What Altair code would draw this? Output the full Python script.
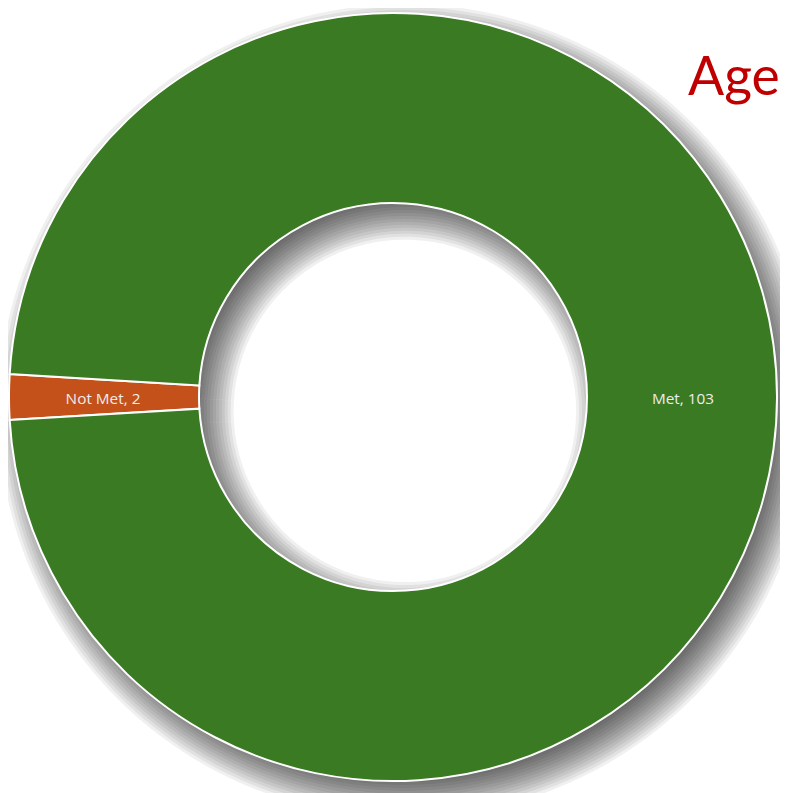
import math
import altair as alt
import pandas as pd

categories = ["Not Met", "Met"]
values = [2, 103]
colors = ["#C4501A", "#3A7A23"]
title_text = "Age"

total = sum(values)
start = math.radians(270 - 360 * values[0] / total / 2)
df = pd.DataFrame({
    "category": categories,
    "value": values,
    "idx": list(range(len(categories))),
    "label": [f"{c}, {v}" for c, v in zip(categories, values)],
})

W, H = 780, 785
cx, cy = 389, 389
R, r = 388, 196

theta = alt.Theta("value:Q", stack=True,
                  scale=alt.Scale(type="linear", range=[start, start + 2 * math.pi]))
base = alt.Chart(df).encode(theta=theta, order=alt.Order("idx:Q"))

layers = []
for i in range(14):
    layers.append(
        base.mark_arc(outerRadius=R - 16 + 3 * i, innerRadius=r + 16 - 3 * i,
                      color="black", opacity=0.06, strokeWidth=0)
        .encode(x=alt.value(cx + 12), y=alt.value(cy + 14))
    )

ring = base.mark_arc(outerRadius=R, innerRadius=r, stroke="white", strokeWidth=2).encode(
    x=alt.value(cx), y=alt.value(cy),
    color=alt.Color("category:N", scale=alt.Scale(domain=categories, range=colors), legend=None),
)

labels = base.mark_text(radius=293, font="Open Sans", fontSize=15.5, color="#EDEDED", dy=2).encode(
    x=alt.value(cx), y=alt.value(cy), text="label:N"
)

title = alt.Chart(pd.DataFrame({"t": [title_text]})).mark_text(
    font="Lato", fontSize=54, color="#C00000", align="left", baseline="alphabetic"
).encode(x=alt.value(687), y=alt.value(84), text="t:N")

chart = alt.layer(*layers, ring, labels, title).properties(
    width=W, height=H, autosize=alt.AutoSizeParams(type="none"), padding=0
).configure_view(stroke=None)

chart.save("out.html", embed_options={"renderer": "svg", "actions": False})
